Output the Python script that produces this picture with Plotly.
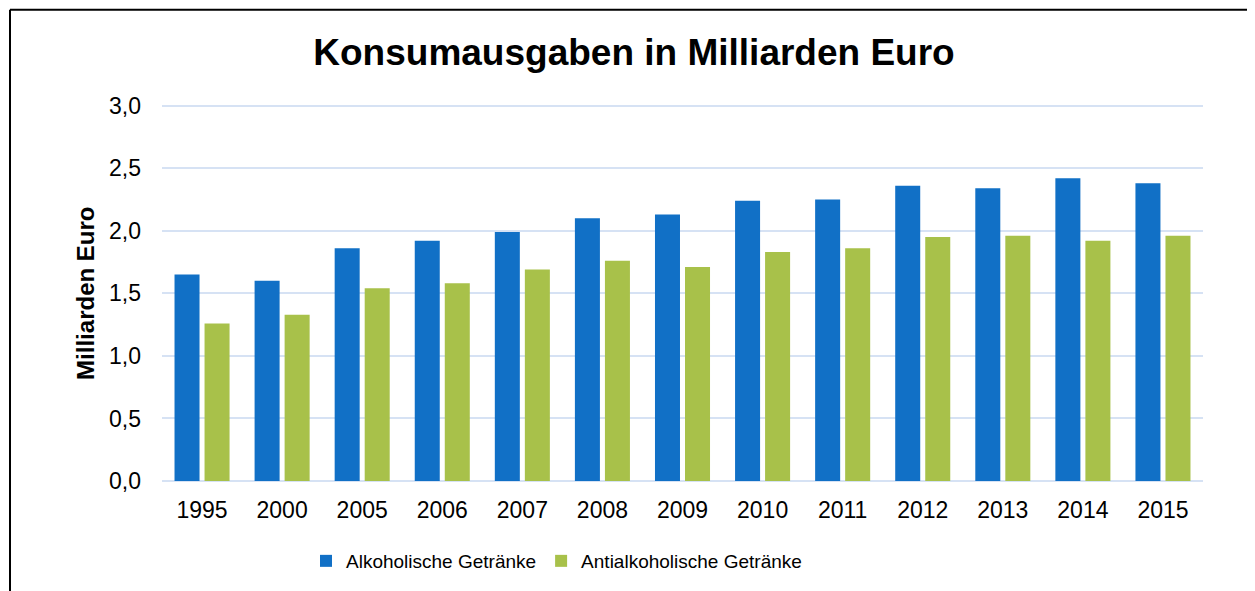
import plotly.graph_objects as go

years = ["1995", "2000", "2005", "2006", "2007", "2008", "2009", "2010", "2011", "2012", "2013", "2014", "2015"]
alkoholisch = [1.65, 1.60, 1.86, 1.92, 1.99, 2.10, 2.13, 2.24, 2.25, 2.36, 2.34, 2.42, 2.38]
antialkoholisch = [1.26, 1.33, 1.54, 1.58, 1.69, 1.76, 1.71, 1.83, 1.86, 1.95, 1.96, 1.92, 1.96]
y_ticks = [0, 0.5, 1.0, 1.5, 2.0, 2.5, 3.0]
y_tick_labels = ["0,0", "0,5", "1,0", "1,5", "2,0", "2,5", "3,0"]

# page body has an 8px default margin; work in page pixels and subtract it
OFF = 8
W, H = 1255 - OFF, 591 - OFF
Y_MAX = 3.03
PX_PER_UNIT = (481 - 106) / 3.0
ML, MR, MB = 162 - OFF, 52, 110
MT = (481 - Y_MAX * PX_PER_UNIT) - OFF
FONT = "Liberation Sans, Arial, sans-serif"

fig = go.Figure()
fig.add_trace(go.Bar(x=years, y=alkoholisch, name="Alkoholische Getränke",
                     marker=dict(color="#1170C6", line=dict(width=0))))
fig.add_trace(go.Bar(x=years, y=antialkoholisch, name="Antialkoholische Getränke",
                     marker=dict(color="#A8C14A", line=dict(width=0))))

pw = W - ML - MR
ph = H - MT - MB
def px_x(p):
    return (p - OFF - ML) / pw
def px_y(p):
    return (H - MB - (p - OFF)) / ph

fig.update_layout(
    width=W, height=H,
    margin=dict(l=ML, r=MR, t=MT, b=MB, pad=0),
    paper_bgcolor="white", plot_bgcolor="white",
    font=dict(family=FONT, color="#000000"),
    barmode="group", bargap=0.25, bargroupgap=0.167,
    title=dict(text="<b>Konsumausgaben in Milliarden Euro</b>",
               font=dict(family=FONT, size=37, color="#000000"),
               x=(634 - OFF) / W, xanchor="center", xref="container",
               y=1 - (52 - OFF) / H, yanchor="middle", yref="container"),
    xaxis=dict(showgrid=False, showline=False, zeroline=False, ticks="",
               tickfont=dict(size=23, color="#000000"), ticklabelstandoff=13),
    yaxis=dict(range=[0, Y_MAX], tickvals=y_ticks, ticktext=y_tick_labels,
               showgrid=True, gridcolor="#D6E2F4", gridwidth=2,
               zeroline=True, zerolinecolor="#D6E2F4", zerolinewidth=2,
               showline=False, ticks="", tickfont=dict(size=23, color="#000000"),
               ticklabelstandoff=20),
    legend=dict(orientation="h", xref="container", yref="container",
                x=(306 - OFF) / W, xanchor="left", y=1 - (561 - OFF) / H, yanchor="middle",
                font=dict(family=FONT, size=19, color="#000000"),
                itemwidth=30, traceorder="normal"),
    annotations=[dict(text="<b>Milliarden Euro</b>", textangle=-90,
                      xref="paper", yref="paper", x=0, y=(H - MB - (294 - OFF)) / ph,
                      xshift=-(162 - 86), xanchor="center", yanchor="middle",
                      showarrow=False, font=dict(family=FONT, size=24, color="#000000"))],
    shapes=[
        dict(type="line", xref="paper", yref="paper",
             x0=px_x(10), x1=px_x(10), y0=px_y(10), y1=px_y(600),
             line=dict(color="#000000", width=2)),
        dict(type="line", xref="paper", yref="paper",
             x0=px_x(10), x1=px_x(1265), y0=px_y(10), y1=px_y(10),
             line=dict(color="#000000", width=2)),
    ],
)

fig.write_html("out.html")
